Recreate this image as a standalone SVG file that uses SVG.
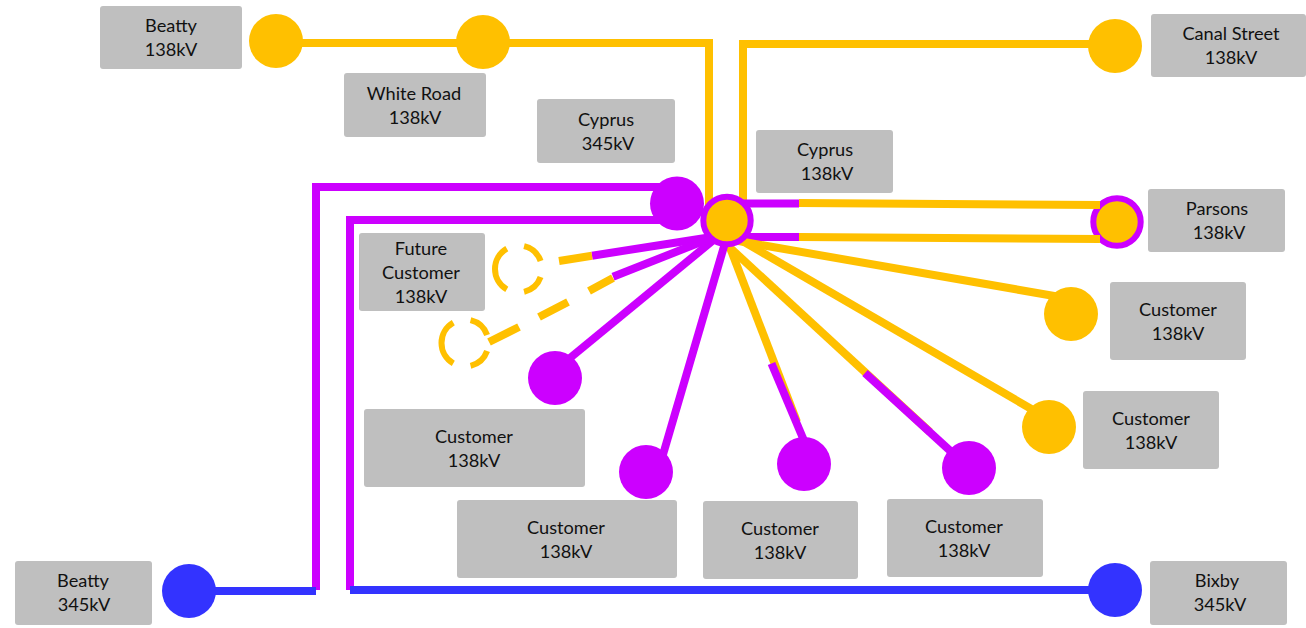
<svg xmlns="http://www.w3.org/2000/svg" width="1306" height="628" viewBox="0 0 1306 628">
<style>
.b{fill:#bfbfbf}
rect{rx:3px}
text{font-family:"Lato","Open Sans",sans-serif;font-size:18.2px;fill:#111;text-anchor:middle}
.c{fill:none;stroke-width:8}
.y{stroke:#ffc000}.p{stroke:#cc00ff}.u{stroke:#3333ff}
.gy{fill:#ffc000}.gp{fill:#cc00ff}.gu{fill:#3333ff}
.dash{fill:none;stroke:#ffc000;stroke-width:6;stroke-dasharray:0 20 56 44 120 44 56 20}
</style>
<g id="n-parsons-ring"><circle class="gy" cx="1117" cy="222" r="23.700" style="stroke:#cc00ff;stroke-width:6"/></g>
<g id="connectors">
<path class="c y" d="M276 43H709V220"/>
<path class="c y" d="M1115 44H743V220"/>
<path class="c y" d="M799 203L1100 205"/>
<path class="c y" d="M799 237L1100 239"/>
<path class="c p" d="M740 203.500H799"/>
<path class="c p" d="M740 237H799"/>
<path class="c p" d="M677 187H316V590"/>
<path class="c p" d="M677 220H350V590"/>
<path class="c u" d="M189 591H316"/>
<path class="c u" d="M350 590H1115"/>
<path class="c y" d="M727 239L1060 297"/>
<path class="c y" d="M727 232L1040 414"/>
<path class="c y" d="M727 245L930 432"/>
<path class="c y" d="M729 245L797 422"/>
<path class="c p" d="M771.500 363.500L805 443"/>
<path class="c p" d="M865 373L969 468"/>
<path class="c p" d="M722 233L570 358"/>
<path class="c p" d="M725 243L662 458"/>
<path class="c p" d="M715 236.500L592 255.700"/>
<path class="c p" d="M715 236.500L613 276.700"/>
<path class="c y" d="M559 261L592 255.700"/>
<path class="c y" d="M489 342L519 327M539 317L568 302M589 291L613 278"/>
</g>
<g id="n-beatty138"><rect class="b" x="100" y="6" width="142" height="63"/><circle class="gy" cx="276" cy="41" r="27"/><text x="171" y="32">Beatty</text><text x="171" y="56">138kV</text></g>
<g id="n-whiteroad"><rect class="b" x="344" y="73" width="142" height="64"/><circle class="gy" cx="483" cy="42" r="27"/><text x="414" y="100">White Road</text><text x="415" y="124">138kV</text></g>
<g id="n-cyprus345"><rect class="b" x="537" y="99" width="138" height="64"/><circle class="gp" cx="677" cy="203.500" r="27"/><text x="606" y="126">Cyprus</text><text x="608" y="150">345kV</text></g>
<g id="n-cyprus138"><rect class="b" x="756" y="130" width="137" height="63"/><circle class="gy" cx="727" cy="220.500" r="23.700" style="stroke:#cc00ff;stroke-width:6"/><text x="825" y="156">Cyprus</text><text x="827" y="180">138kV</text></g>
<g id="n-canal"><rect class="b" x="1151" y="14" width="155" height="63"/><circle class="gy" cx="1115" cy="46" r="27"/><text x="1231" y="40">Canal Street</text><text x="1231" y="64">138kV</text></g>
<g id="n-parsons"><rect class="b" x="1148" y="189" width="137" height="63"/><text x="1217" y="215">Parsons</text><text x="1219" y="239">138kV</text></g>
<g id="n-cust1"><rect class="b" x="1110" y="282" width="136" height="78"/><circle class="gy" cx="1071" cy="314" r="27"/><text x="1178" y="316">Customer</text><text x="1178" y="340">138kV</text></g>
<g id="n-cust2"><rect class="b" x="1083" y="391" width="136" height="78"/><circle class="gy" cx="1049" cy="427" r="27"/><text x="1151" y="425">Customer</text><text x="1151" y="449">138kV</text></g>
<g id="n-future"><rect class="b" x="359" y="233" width="126" height="78"/><text x="421" y="255">Future</text><text x="421" y="279">Customer</text><text x="421" y="303">138kV</text></g>
<g id="n-future1"><circle class="dash" pathLength="360" cx="518.500" cy="269" r="23.500"/></g>
<g id="n-future2"><circle class="dash" pathLength="360" cx="465" cy="343" r="23.500"/></g>
<g id="n-cust3"><rect class="b" x="364" y="409" width="221" height="78"/><circle class="gp" cx="555" cy="378" r="27"/><text x="474" y="443">Customer</text><text x="474" y="467">138kV</text></g>
<g id="n-cust4"><rect class="b" x="457" y="500" width="220" height="78"/><circle class="gp" cx="646" cy="472" r="27"/><text x="566" y="534">Customer</text><text x="566" y="558">138kV</text></g>
<g id="n-cust5"><rect class="b" x="703" y="501" width="155" height="78"/><circle class="gp" cx="804" cy="464" r="27"/><text x="780" y="535">Customer</text><text x="780" y="559">138kV</text></g>
<g id="n-cust6"><rect class="b" x="887" y="499" width="156" height="78"/><circle class="gp" cx="969" cy="468" r="27"/><text x="964" y="533">Customer</text><text x="964" y="557">138kV</text></g>
<g id="n-beatty345"><rect class="b" x="15" y="561" width="137" height="64"/><circle class="gu" cx="189" cy="591" r="27"/><text x="83" y="587">Beatty</text><text x="84" y="611">345kV</text></g>
<g id="n-bixby"><rect class="b" x="1150" y="561" width="137" height="64"/><circle class="gu" cx="1115" cy="590" r="27"/><text x="1217" y="587">Bixby</text><text x="1220" y="611">345kV</text></g>
</svg>
